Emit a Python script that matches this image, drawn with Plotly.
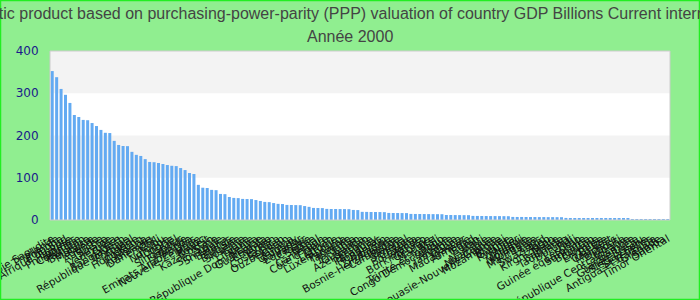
import plotly.graph_objects as go

title_text = ("Gross domestic product based on purchasing-power-parity (PPP) valuation of country GDP "
              "Billions Current international dollar")
subtitle_text = "Année 2000"

countries = [
    "Arabie Saoudite", "Thaïlande", "Pologne", "Afrique du Sud", "Egypte",
    "Philippines", "Colombie", "Pakistan", "Belgique", "Malaisie",
    "Suède", "Autriche", "Suisse", "Ukraine", "Venezuela",
    "Grèce", "Bangladesh", "République tchèque", "Portugal", "Algérie",
    "Hong Kong", "Nigéria", "Roumanie", "Danemark", "Chili",
    "Pérou", "Norvège", "Hongrie", "Israël", "Singapour",
    "Finlande", "Irlande", "Emirats Arabes Unis", "Nouvelle-Zélande", "Maroc",
    "Koweït", "Kazakhstan", "Syrie", "Slovaquie", "Sri Lanka",
    "Bélarus", "Tunisie", "Bulgarie", "Slovénie", "Libye",
    "Lituanie", "Kenya", "République Dominicaine", "Guatemala", "Ethiopie",
    "Yémen", "Costa Rica", "Soudan", "Ouzbékistan", "Ghana",
    "Uruguay", "Salvador", "Equateur", "Croatie", "Serbie",
    "Népal", "Cameroun", "Côte d'Ivoire", "Oman", "Lettonie",
    "Luxembourg", "Panama", "Tanzanie", "Jordanie", "Liban",
    "Ouganda", "Azerbaïdjan", "Estonie", "Paraguay", "Honduras",
    "Bahreïn", "Zimbabwe", "Bosnie-Herzégovine", "Cambodge", "Bolivie",
    "Sénégal", "Chypre", "Botswana", "Islande", "Burkina Faso",
    "Géorgie", "Maurice", "Mali", "Trinité-et-Tobago", "Congo Démocratique",
    "Albanie", "Jamaïque", "Gabon", "Madagascar", "Arménie",
    "Tchad", "Bénin", "Haïti", "Namibie", "Nicaragua",
    "Papouasie-Nouvelle-Guinée", "Mozambique", "Brunei", "Guinée", "Rwanda",
    "Niger", "Malawi", "Moldavie", "Mongolie", "Mauritanie",
    "Laos", "Swaziland", "Togo", "Kirghizistan", "Malte",
    "Barbade", "Tadjikistan", "Burundi", "Fidji", "Lesotho",
    "Guinée équatoriale", "Suriname", "Bhoutan", "Guyane", "Érythrée",
    "Belize", "Cap-Vert", "Maldives", "Djibouti", "Libéria",
    "République Centrafricaine", "Gambie", "Sainte-Lucie", "Guinée-Bissau", "Sierra Leone",
    "Seychelles", "Antigua-et-Barbuda", "Grenade", "Samoa", "Timor Oriental",
]

gdp_ppp = [
    352.5, 338.0, 310.2, 296.3, 277.1, 248.6, 243.8, 236.9, 236.2, 229.5,
    222.4, 213.2, 206.4, 205.8, 187.3, 177.6, 175.2, 174.8, 161.3, 154.2,
    151.6, 144.1, 137.4, 136.8, 134.9, 132.6, 130.1, 128.3, 127.6, 123.0,
    118.2, 111.3, 108.9, 83.2, 76.4, 75.8, 71.3, 70.6, 61.7, 61.2,
    54.5, 52.3, 51.8, 49.9, 49.6, 49.4, 47.2, 45.1, 42.8, 42.3,
    40.1, 38.2, 37.8, 35.7, 35.5, 35.3, 35.1, 33.0, 31.1, 28.6,
    28.4, 28.2, 26.3, 26.1, 26.0, 25.9, 25.8, 25.6, 23.8, 23.5,
    19.3, 19.2, 19.0, 18.9, 18.8, 18.6, 16.7, 16.6, 16.5, 16.4,
    16.3, 14.4, 14.3, 14.2, 14.1, 14.0, 13.9, 13.8, 13.7, 11.9,
    11.8, 11.7, 11.6, 11.5, 11.4, 9.7, 9.6, 9.5, 9.4, 9.3,
    9.3, 9.2, 9.1, 9.0, 7.3, 7.2, 7.2, 7.1, 7.0, 7.0,
    6.9, 6.9, 6.8, 6.8, 6.7, 6.6, 4.9, 4.8, 4.8, 4.7,
    4.6, 4.6, 4.5, 4.5, 4.4, 4.3, 2.6, 2.5, 2.5, 2.4,
    2.4, 2.3, 2.3, 2.2, 2.2, 2.1, 2.1, 2.0, 2.0, 1.9,
]

y_ticks = [0, 100, 200, 300, 400]

W, H = 700, 300
ML, MR, MT, MB = 50, 30, 51, 80
pw, ph = W - ML - MR, H - MT - MB

title_font = dict(family="Liberation Sans Narrow, Arial Narrow, Liberation Sans, sans-serif",
                  size=16, color="#444444")

fig = go.Figure()
fig.add_trace(go.Bar(
    x=countries, y=gdp_ppp,
    marker=dict(color="#63aaf2", line=dict(width=0)),
))

shapes = []
for i in range(len(y_ticks) - 1):
    if i % 2 == 1:
        shapes.append(dict(type="rect", xref="paper", yref="y", x0=0, x1=1,
                           y0=y_ticks[i], y1=y_ticks[i + 1],
                           fillcolor="#f3f3f3", line=dict(width=0), layer="below"))
shapes.append(dict(type="rect", xref="paper", yref="paper", x0=0, x1=1, y0=0, y1=1,
                   line=dict(color="#cccccc", width=1), layer="above"))
shapes.append(dict(type="rect", xref="paper", yref="paper",
                   x0=-ML / pw + 0.5 / pw, x1=1 + (MR - 0.5) / pw,
                   y0=-(MB - 0.5) / ph, y1=1 + (MT - 0.5) / ph,
                   line=dict(color="#22ee22", width=1.5), layer="above"))

fig.update_layout(
    width=W, height=H,
    margin=dict(l=ML, r=MR, t=MT, b=MB, autoexpand=False),
    paper_bgcolor="#90ee90",
    plot_bgcolor="#ffffff",
    showlegend=False,
    bargap=0.32,
    shapes=shapes,
    title=dict(
        text=title_text,
        x=0.5, xref="container", xanchor="center",
        y=1 - 13 / H, yref="container", yanchor="middle",
        font=title_font,
    ),
    annotations=[dict(
        text=subtitle_text, showarrow=False,
        xref="paper", x=(W / 2 - ML) / pw, xanchor="center",
        yref="paper", y=1 + (MT - 36) / ph, yanchor="middle",
        font=title_font,
    )],
    font=dict(family="DejaVu Sans, sans-serif"),
)

fig.update_xaxes(
    type="category", dtick=1, tickangle=-30,
    tickfont=dict(family="DejaVu Sans, sans-serif", size=10.5, color="#111111"),
    showgrid=False, zeroline=False, showline=False,
    ticks="outside", ticklen=8, tickcolor="rgba(0,0,0,0)", automargin=False,
)
fig.update_yaxes(
    range=[0, 400], tickmode="array", tickvals=y_ticks,
    tickfont=dict(family="DejaVu Sans, sans-serif", size=12, color="#1a1a8a"),
    showgrid=False, zeroline=False, showline=False,
    ticks="outside", ticklen=8, tickcolor="rgba(0,0,0,0)", automargin=False,
)

fig.write_html("out.html")
